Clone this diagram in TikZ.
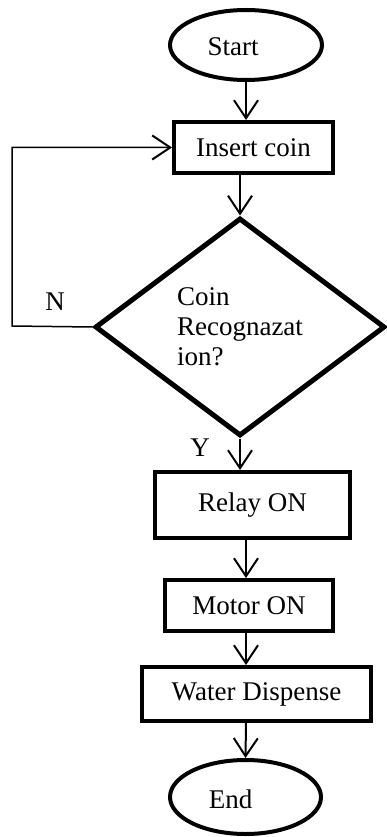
\documentclass[tikz,border=0pt]{standalone}
\usepackage{fontspec}
\setmainfont{Liberation Serif}
\usetikzlibrary{shapes.geometric,arrows.meta}
\begin{document}
\begin{tikzpicture}[x=1pt,y=-1pt,
  font=\fontsize{27}{30}\selectfont,
  procbox/.style={draw, rectangle, line width=4pt, inner sep=0pt},
  term/.style={draw, ellipse, line width=4pt, inner sep=0pt},
  decision/.style={draw, diamond, line width=5pt, inner sep=0pt, align=left},
  tip/.style={-{Straight Barb[length=18pt,width=24pt,line width=2pt]}},
  flow/.style={tip, line width=2pt},
  loopline/.style={tip, line width=1.5pt},
]
\useasboundingbox (0,0) rectangle (386,837);

\node[term, minimum width=152pt, minimum height=70pt,
      label={[xshift=-13pt,yshift=-2pt]center:Start}] (start) at (246,45) {};
\node[procbox, minimum width=159pt, minimum height=51pt] (insert) at (253.5,147.5) {Insert coin};
\node[decision, minimum width=290pt, minimum height=218pt] (dia) at (240,327) {Coin\\Recognazat\\ion?};
\node[procbox, minimum width=195pt, minimum height=66pt] (relay) at (252.5,505) {Relay ON};
\node[procbox, minimum width=168pt, minimum height=51pt] (motor) at (249,605.5) {Motor ON};
\node[procbox, minimum width=229pt, minimum height=54pt] (water) at (256.5,694) {Water Dispense};
\node[term, minimum width=151pt, minimum height=74pt,
      label={[xshift=-15pt,yshift=-2pt]center:End}] (end) at (245.5,797) {};

\node (nlab) at (55,302) {N};
\node (ylab) at (200,448) {Y};

\coordinate (lp) at (12,326);

\draw[flow] (start.south) -- (start.south |- insert.north);
\draw[flow] (dia.north |- insert.south) -- (dia.north);
\draw[loopline] (dia.west) -- (lp) |- (insert.west);
\draw[flow] (dia.south) -- (dia.south |- relay.north);
\draw[flow] (relay.south -| start) -- (motor.north -| start);
\draw[flow] (motor.south -| start) -- (water.north -| start);
\draw[flow] (water.south -| start) -- (end.north);
\end{tikzpicture}
\end{document}
